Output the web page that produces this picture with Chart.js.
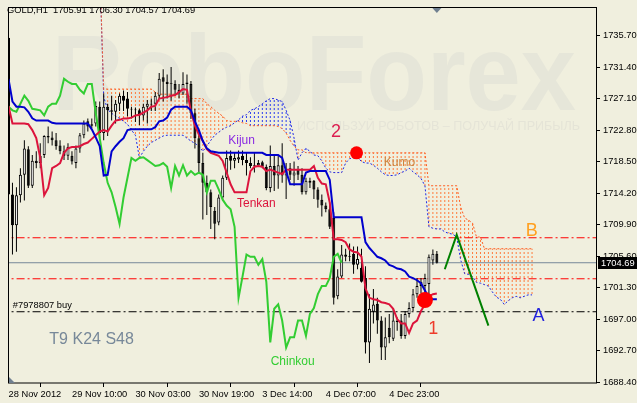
<!DOCTYPE html>
<html><head><meta charset="utf-8">
<script src="https://cdn.jsdelivr.net/npm/chart.js@4.4.1/dist/chart.umd.min.js"></script>
<style>html,body{margin:0;padding:0;background:#F0EFDE;}canvas{display:block;}</style>
</head><body>
<canvas id="c" width="637" height="403"></canvas>
<script>
// ---------- DATA (GOLD, H1) ----------
const opens = [1735.4,1714.0,1709.8,1713.9,1716.7,1720.2,1715.2,1718.6,1718.3,1719.4,
1722.0,1721.8,1721.4,1720.7,1719.9,1719.3,1719.3,1718.3,1720.3,1722.1,
1724.0,1723.4,1723.7,1726.0,1722.4,1726.0,1725.5,1725.3,1726.4,1727.5,
1727.1,1725.7,1725.6,1725.5,1724.8,1726.0,1726.3,1726.4,1727.5,1730.0,
1729.4,1729.2,1729.1,1728.3,1727.8,1729.3,1729.1,1725.1,1721.7,1718.3,
1715.6,1714.3,1711.8,1710.2,1713.6,1716.3,1719.3,1718.6,1718.8,1719.3,
1718.7,1718.3,1717.9,1718.0,1718.4,1717.8,1714.9,1717.9,1716.6,1718.0,
1716.6,1717.6,1716.6,1717.4,1716.7,1714.3,1715.6,1715.9,1714.7,1713.3,
1712.5,1712.0,1710.8,1700.1,1702.8,1705.8,1705.6,1705.9,1704.4,1704.0,
1702.6,1693.8,1698.0,1699.1,1696.8,1693.1,1695.8,1694.3,1696.6,1696.8,
1694.7,1697.7,1698.5,1700.4,1702.1,1701.5,1701.8,1705.0,1705.91];
const highs = [1735.8,1715.6,1715.0,1717.6,1721.4,1720.6,1719.4,1719.9,1721.0,1722.1,
1723.3,1722.6,1722.4,1721.4,1720.7,1721.0,1719.9,1720.7,1722.4,1724.1,
1724.4,1724.4,1726.7,1726.7,1727.8,1726.4,1727.5,1726.9,1727.8,1728.2,
1728.0,1726.0,1725.9,1725.7,1726.4,1726.9,1727.1,1728.0,1730.6,1731.1,
1730.4,1731.4,1729.6,1729.1,1730.7,1730.4,1729.5,1725.7,1722.8,1719.7,
1716.6,1714.7,1712.3,1714.0,1716.6,1720.0,1720.0,1719.7,1720.0,1720.0,
1719.7,1719.1,1719.7,1718.7,1718.6,1718.1,1720.7,1719.3,1719.4,1721.0,
1718.3,1718.3,1718.5,1717.9,1717.6,1716.3,1716.3,1716.0,1715.0,1714.0,
1712.9,1712.9,1711.6,1703.8,1707.1,1706.6,1707.3,1706.9,1706.9,1706.6,
1704.2,1700.4,1701.1,1699.9,1697.4,1697.2,1697.7,1698.5,1697.2,1697.7,
1698.1,1699.3,1701.1,1702.6,1702.6,1703.2,1705.8,1706.5,1706.30];
const lows = [1710.5,1705.8,1706.2,1712.9,1713.2,1714.9,1714.9,1717.6,1717.6,1719.0,
1721.0,1720.7,1720.1,1719.5,1718.7,1718.7,1718.1,1717.6,1719.7,1721.7,
1722.6,1723.1,1723.3,1721.7,1721.4,1722.0,1724.1,1723.7,1725.4,1725.4,
1724.7,1724.4,1723.9,1723.5,1724.1,1723.7,1725.4,1725.4,1727.1,1726.7,
1727.1,1726.8,1727.5,1727.1,1727.6,1726.4,1724.3,1720.3,1717.0,1710.6,
1711.2,1709.3,1707.9,1709.8,1713.2,1716.0,1717.4,1717.6,1718.3,1718.0,
1716.6,1717.6,1717.0,1717.9,1717.6,1714.6,1714.3,1714.5,1714.8,1715.6,
1713.4,1716.0,1715.2,1716.0,1714.0,1714.0,1714.9,1713.4,1712.2,1711.0,
1711.6,1709.3,1699.0,1699.7,1702.6,1704.9,1704.9,1703.2,1703.8,1702.0,
1692.3,1691.0,1696.4,1695.0,1691.4,1691.4,1693.7,1694.0,1695.4,1694.3,
1694.3,1697.2,1698.1,1699.9,1700.5,1699.5,1699.8,1704.4,1704.57];
const closes = [1714.0,1709.8,1713.9,1716.7,1720.3,1715.2,1718.6,1718.3,1719.3,1722.0,
1721.8,1721.4,1720.6,1719.9,1719.3,1720.5,1718.5,1720.3,1722.1,1723.7,
1723.3,1723.6,1726.1,1722.4,1726.0,1725.5,1725.3,1726.4,1727.5,1726.8,
1725.7,1725.6,1725.5,1724.8,1726.0,1726.4,1726.4,1727.5,1729.8,1729.4,
1729.1,1729.1,1728.3,1727.8,1729.1,1729.1,1725.1,1721.7,1718.3,1715.6,
1714.3,1712.3,1710.0,1713.6,1716.3,1719.0,1718.6,1719.0,1719.1,1718.7,
1718.3,1717.9,1718.0,1718.3,1717.8,1714.9,1717.9,1716.6,1718.0,1716.6,
1717.2,1716.7,1717.0,1716.7,1714.3,1715.9,1715.9,1714.7,1713.3,1712.5,
1712.0,1709.6,1699.9,1702.8,1705.8,1705.5,1705.5,1704.4,1705.2,1702.1,
1693.8,1698.4,1699.0,1696.8,1693.1,1694.5,1694.5,1696.8,1696.8,1694.7,
1697.7,1698.5,1700.4,1701.5,1701.5,1702.6,1705.5,1705.9,1704.69];

const tenkan = [1726.1,1723.7,1723.7,1723.7,1723.7,1723.6,1722.8,1721.7,1719.0,1713.9,
1714.9,1717.6,1717.9,1718.3,1719.7,1720.3,1720.5,1720.5,1720.6,1720.9,
1721.1,1721.6,1722.1,1722.6,1722.8,1722.6,1723.4,1724.1,1724.2,1724.4,
1724.4,1724.5,1724.8,1724.9,1725.2,1725.5,1726.0,1726.1,1727.1,1727.2,
1727.3,1727.5,1727.6,1728.0,1728.4,1728.3,1725.3,1723.4,1722.2,1721.3,
1720.2,1719.7,1719.5,1719.3,1718.6,1717.0,1715.4,1714.3,1714.3,1714.3,
1714.3,1717.2,1717.8,1717.9,1717.8,1717.2,1717.4,1717.2,1717.0,1716.8,
1717.4,1717.4,1717.4,1717.4,1717.4,1717.4,1717.4,1717.9,1716.3,1715.5,
1715.4,1712.9,1707.9,1707.9,1707.8,1707.5,1706.5,1706.2,1706.1,1705.5,
1701.2,1699.9,1699.7,1699.6,1699.3,1699.2,1699.0,1698.4,1697.0,1696.4,
1696.4,1695.1,1696.4,1696.8,1698.1,1699.0,1700.1,1700.4,1700.5];
const kijun = [1729.8,1726.7,1726.0,1726.0,1725.9,1725.3,1724.4,1724.1,1724.1,1724.1,
1724.1,1723.8,1723.7,1723.7,1723.7,1723.7,1723.7,1723.7,1723.7,1723.7,
1723.7,1722.9,1721.8,1720.6,1716.6,1716.7,1719.9,1720.6,1721.2,1721.7,
1722.8,1722.9,1722.9,1722.9,1722.9,1722.9,1722.9,1723.2,1724.0,1724.1,
1724.5,1725.6,1726.0,1726.0,1726.0,1726.0,1725.5,1724.0,1722.8,1721.3,
1720.3,1719.9,1719.8,1719.7,1719.7,1719.7,1719.7,1719.7,1719.7,1719.7,
1719.7,1719.7,1719.7,1719.7,1719.7,1719.4,1719.4,1719.4,1719.4,1719.0,
1717.2,1715.4,1715.4,1715.4,1715.4,1717.0,1717.2,1717.2,1717.2,1717.2,
1717.2,1716.0,1710.9,1710.9,1710.9,1710.9,1710.9,1710.9,1710.9,1710.9,
1707.5,1706.7,1706.1,1705.5,1705.3,1705.0,1704.4,1704.2,1703.9,1703.8,
1703.5,1702.8,1702.6,1702.3,1701.9,1700.9,1699.9,1699.7,1699.7];
const chinkou = [1726.0,1725.5,1725.3,1726.4,1727.5,1726.8,1725.7,1725.6,1725.5,1724.8,
1726.0,1726.4,1726.4,1727.5,1729.8,1729.4,1729.1,1729.1,1728.3,1727.8,
1729.1,1729.1,1725.1,1721.7,1718.3,1715.6,1714.3,1712.3,1710.0,1713.6,
1716.3,1719.0,1718.6,1719.0,1719.1,1718.7,1718.3,1717.9,1718.0,1718.3,
1717.8,1714.9,1717.9,1716.6,1718.0,1716.6,1717.2,1716.7,1717.0,1716.7,
1714.3,1715.9,1715.9,1714.7,1713.3,1712.5,1712.0,1709.6,1699.9,1702.8,
1705.8,1705.5,1705.5,1704.4,1705.2,1702.1,1693.8,1698.4,1699.0,1696.8,
1693.1,1694.5,1694.5,1696.8,1696.8,1694.7,1697.7,1698.5,1700.4,1701.5,
1701.5,1702.6,1705.5,1705.9,1704.69];
const senkouStart = 23;   // first bar index of the senkou arrays
const cloudStart = 24;    // first bar with a visible kumo
const senkouA = [1745.0,1727.3,1725.6,1725.1,1724.7,1724.4,1724.0,
1723.6,1722.8,1722.1,1719.0,1719.9,1720.6,1721.1,1721.4,1721.7,1722.0,
1722.1,1722.1,1722.1,1722.1,1722.1,1721.7,1721.3,1721.0,1720.6,1719.9,
1720.6,1721.4,1722.1,1722.5,1722.9,1723.2,1723.4,1723.8,1724.2,1724.7,
1724.9,1725.5,1725.7,1726.0,1726.4,1726.8,1727.1,1727.1,1726.9,1726.7,
1725.5,1724.1,1721.7,1718.7,1719.7,1720.3,1719.9,1719.4,1719.3,1718.6,
1717.6,1717.1,1717.0,1717.0,1717.0,1718.3,1718.9,1719.0,1719.1,1718.5,
1718.3,1718.3,1718.0,1717.6,1717.1,1716.7,1716.6,1716.6,1716.7,1717.0,
1717.2,1717.6,1717.1,1716.7,1716.2,1715.2,1709.6,1709.4,1709.3,1709.3,
1708.9,1708.7,1708.6,1708.2,1705.1,1703.2,1703.1,1702.8,1702.0,1701.9,
1701.7,1701.5,1700.7,1700.0,1699.7,1699.0,1699.5,1699.9,1700.1,1699.9,
1700.1,1700.3,1700.3];
const senkouB = [1745.0,1728.4,1728.4,1728.4,1728.4,1728.4,1728.4,
1728.4,1728.4,1728.4,1728.4,1728.4,1728.4,1728.4,1728.0,1727.7,1727.7,
1727.7,1727.7,1727.7,1727.7,1727.7,1727.7,1727.1,1727.1,1727.1,1727.1,
1726.4,1726.0,1725.5,1725.1,1724.7,1724.1,1724.0,1724.0,1724.0,1723.8,
1723.7,1723.4,1723.4,1723.4,1723.4,1723.4,1723.4,1723.4,1723.3,1723.0,
1722.4,1721.4,1720.6,1720.1,1720.1,1719.7,1719.7,1719.7,1719.7,1719.7,
1719.7,1719.7,1719.7,1719.7,1719.7,1719.7,1719.7,1719.7,1719.7,1719.7,
1719.7,1719.7,1719.7,1719.7,1719.7,1719.7,1719.7,1719.7,1719.7,1719.7,
1719.7,1719.7,1719.7,1719.7,1719.7,1719.7,1715.2,1715.2,1715.2,1715.2,
1715.2,1715.2,1715.2,1715.2,1712.3,1710.8,1710.5,1710.1,1708.2,1708.2,
1706.6,1706.6,1706.6,1706.6,1706.6,1706.6,1706.6,1706.6,1706.6,1706.6,
1706.6,1706.6,1706.6];

const xTickBars = [0,16,32,48,64,80,96];
const xTickLabels = ['28 Nov 2012','29 Nov 10:00','30 Nov 03:00','30 Nov 19:00','3 Dec 14:00','4 Dec 07:00','4 Dec 23:00'];
const yTickValues = [1735.70,1731.40,1727.10,1722.80,1718.50,1714.20,1709.90,1705.60,1701.30,1697.00,1692.70,1688.40];
const redLevels = [1708.1,1702.5];
const orderLevel = 1698.0;
const lastPrice = 1704.69;
const forecastBars = [110,113,121];
const forecastPrices = [1703.8,1708.5,1696.1];
const signalBars = [87.75,105];
const signalPrices = [1719.7,1699.6];
const noteTexts = ['Kijun','Tenkan','Kumo','Chinkou','2','1','B','A','T9 K24 S48','#7978807 buy'];
const noteBars = [55.4,57.6,94.6,66.1,81.3,105.8,130.4,132.1,10.3,1.1];
const notePrices = [1721.4,1712.7,1718.3,1691.2,1722.6,1695.6,1709.0,1697.4,1694.2,1698.9];
const headerText = 'GOLD,H1  1705.91 1706.30 1704.57 1704.69';

// ---------- STYLE ----------
const BG = '#F0EFDE';
const FONT = '"Liberation Sans", Arial, sans-serif';
const noteColors = ['#8A2BE2','#DC143C','#CD853F','#32CD32','#DC1E50','#EE3B2B','#FFA020','#2222DD','#778899','#000000'];
const noteSizes = [12,12,12,12,18,18,18,18,16,9.3];

const canvas = document.getElementById('c');
const ctx0 = canvas.getContext('2d');
function hatch(color){
  const p = document.createElement('canvas'); p.width = 1; p.height = 4;
  const g = p.getContext('2d'); g.fillStyle = color; g.fillRect(0,0,1,2);
  return ctx0.createPattern(p,'repeat');
}
const orangeHatch = hatch('#FF7A3A');
const blueHatch = hatch('#2A3CF0');

const idx = opens.map((_, i) => i);
const wickData = idx.map(i => ({x:i, y:[lows[i], highs[i]]}));
const bodyData = idx.map(i => ({x:i, y:[opens[i], closes[i]]}));
const pts = (arr, start) => arr.map((v,k) => ({x:start+k, y:v}));
const cloudData = [];
senkouA.forEach((a,k) => { const i = senkouStart + k; if (i >= cloudStart) cloudData.push({x:i, y:[a, senkouB[k]]}); });
const hline = v => [{x:-2, y:v},{x:150, y:v}];

const levelSet = (v, color, dash) => ({type:'line', data:hline(v), borderColor:color, borderWidth:1, borderDash:dash, pointRadius:0, order:8});

const decor = {
  id:'decor',
  beforeDraw(chart){
    const c = chart.ctx, a = chart.chartArea;
    c.save();
    c.fillStyle = BG; c.fillRect(0,0,chart.width,chart.height);
    // watermark
    c.beginPath(); c.rect(a.left, a.top, a.right-a.left, a.bottom-a.top); c.clip();
    c.fillStyle = '#E6E6D9';
    c.font = 'bold 108px ' + FONT;
    let w = c.measureText('RoboForex').width;
    c.save(); c.translate(52,110); c.scale(524/w,1); c.textBaseline='alphabetic'; c.fillText('RoboForex',0,0); c.restore();
    c.fillStyle = '#E5E4D7';
    c.font = '12px ' + FONT;
    const sub = 'ИСПОЛЬЗУЙ РОБОТОВ – ПОЛУЧАЙ ПРИБЫЛЬ';
    w = c.measureText(sub).width;
    c.save(); c.translate(297,130); c.scale(283/w,1); c.fillText(sub,0,0); c.restore();
    c.restore();
  },
  afterDatasetsDraw(chart){
    const c = chart.ctx, xs = chart.scales.x, ys = chart.scales.y;
    c.save();
    c.textBaseline = 'middle'; c.textAlign = 'left';
    noteTexts.forEach((t,k) => {
      c.fillStyle = noteColors[k];
      c.font = noteSizes[k] + 'px ' + FONT;
      c.fillText(t, xs.getPixelForValue(noteBars[k]), ys.getPixelForValue(notePrices[k]));
    });
    c.restore();
  },
  afterDraw(chart){
    const c = chart.ctx, a = chart.chartArea, xs = chart.scales.x, ys = chart.scales.y;
    c.save();
    c.strokeStyle = '#000'; c.lineWidth = 1;
    c.strokeRect(a.left+0.5, a.top-0.5, a.right-a.left, a.bottom-a.top+0.5);
    // shift marker
    const sx = xs.getPixelForValue(opens.length-1);
    c.fillStyle = '#708090';
    c.beginPath(); c.moveTo(sx-4.5,a.top); c.lineTo(sx+4.5,a.top); c.lineTo(sx,a.top+5); c.closePath(); c.fill();
    c.beginPath(); c.moveTo(a.left+1,a.bottom-6); c.lineTo(a.left+1,a.bottom); c.lineTo(a.left+7,a.bottom); c.closePath(); c.fill();
    // header
    c.fillStyle = '#000'; c.font = '9.3px ' + FONT; c.textBaseline = 'middle'; c.textAlign = 'left';
    c.fillText(headerText, 7, 10.5);
    // last price box
    const py = ys.getPixelForValue(lastPrice);
    c.fillStyle = '#000'; c.fillRect(a.right+2, Math.round(py)-6, 42, 12);
    c.fillStyle = '#FFF'; c.fillText(lastPrice.toFixed(2), a.right+5, Math.round(py)+0.5);
    c.restore();
  }
};

new Chart(canvas, {
  type:'line',
  data:{datasets:[
    {type:'bar', data:cloudData, barThickness:1, grouped:false, inflateAmount:0, borderWidth:0,
     backgroundColor: c => (c.raw && c.raw.y[0] > c.raw.y[1]) ? blueHatch : orangeHatch, order:10},
    {type:'line', data:pts(senkouB, senkouStart), borderColor:'#FF5A1E', borderWidth:1, borderDash:[2,2], pointRadius:0, order:9},
    {type:'line', data:pts(senkouA, senkouStart), borderColor:'#1E28E6', borderWidth:1, borderDash:[2,2], pointRadius:0, order:9},
    levelSet(redLevels[0], '#FF0000', [8,3,2,3]),
    levelSet(redLevels[1], '#FF0000', [8,3,2,3]),
    levelSet(orderLevel, '#000000', [8,3,2,3]),
    levelSet(lastPrice, '#778899', []),
    {type:'bar', data:wickData, barThickness:1, grouped:false, inflateAmount:0, backgroundColor:'#000', borderWidth:0, order:7},
    {type:'bar', data:bodyData, barThickness:3, grouped:false, inflateAmount:0, borderSkipped:false, borderWidth:1, borderColor:'#000',
     backgroundColor: c => (closes[c.dataIndex] >= opens[c.dataIndex]) ? '#FFFFFF' : '#000000', order:6},
    {type:'line', data:pts(chinkou,0), borderColor:'#32CD32', borderWidth:2, pointRadius:0, order:3},
    {type:'line', data:pts(kijun,0), borderColor:'#0000CD', borderWidth:2, pointRadius:0, order:2},
    {type:'line', data:pts(tenkan,0), borderColor:'#DC143C', borderWidth:2, pointRadius:0, order:2},
    {type:'line', data:forecastBars.map((b,k)=>({x:b,y:forecastPrices[k]})), borderColor:'#008000', borderWidth:2, pointRadius:0, order:1},
    {type:'line', data:signalBars.map((b,k)=>({x:b,y:signalPrices[k]})), showLine:false, pointRadius:[6.5,8], pointBackgroundColor:'#FF0000', pointBorderWidth:0, pointBorderColor:'#FF0000', order:0}
  ]},
  options:{
    responsive:false, animation:false, devicePixelRatio:1,
    layout:{padding:{left:3, top:3, right:0, bottom:0}},
    plugins:{legend:{display:false}, tooltip:{enabled:false}},
    elements:{line:{tension:0}},
    scales:{
      x:{type:'linear', min:-0.125, max:148.125, offset:false, position:'bottom',
         grid:{display:true, drawOnChartArea:false, drawTicks:true, tickLength:4, color:'#000', lineWidth:1},
         border:{display:false},
         ticks:{autoSkip:false, maxRotation:0, align:'start', padding:2, color:'#000', font:{family:FONT, size:9.3},
                callback:(v,i)=>xTickLabels[i]},
         afterBuildTicks:s=>{ s.ticks = xTickBars.map(v=>({value:v})); },
         afterFit:s=>{ s.height = 20; s.paddingLeft=0; s.paddingRight=0; s.paddingTop=0; s.paddingBottom=0; }},
      y:{type:'linear', position:'right', min:1688.27, max:1739.47,
         grid:{display:true, drawOnChartArea:false, drawTicks:true, tickLength:4, color:'#000', lineWidth:1},
         border:{display:false},
         ticks:{padding:3, color:'#000', font:{family:FONT, size:9.3}, callback:v=>Number(v).toFixed(2)},
         afterBuildTicks:s=>{ s.ticks = yTickValues.map(v=>({value:v})); },
         afterFit:s=>{ s.width = 41; s.paddingLeft=0; s.paddingRight=0; s.paddingTop=0; s.paddingBottom=0; }}
    }
  },
  plugins:[decor]
});
</script>
</body></html>
